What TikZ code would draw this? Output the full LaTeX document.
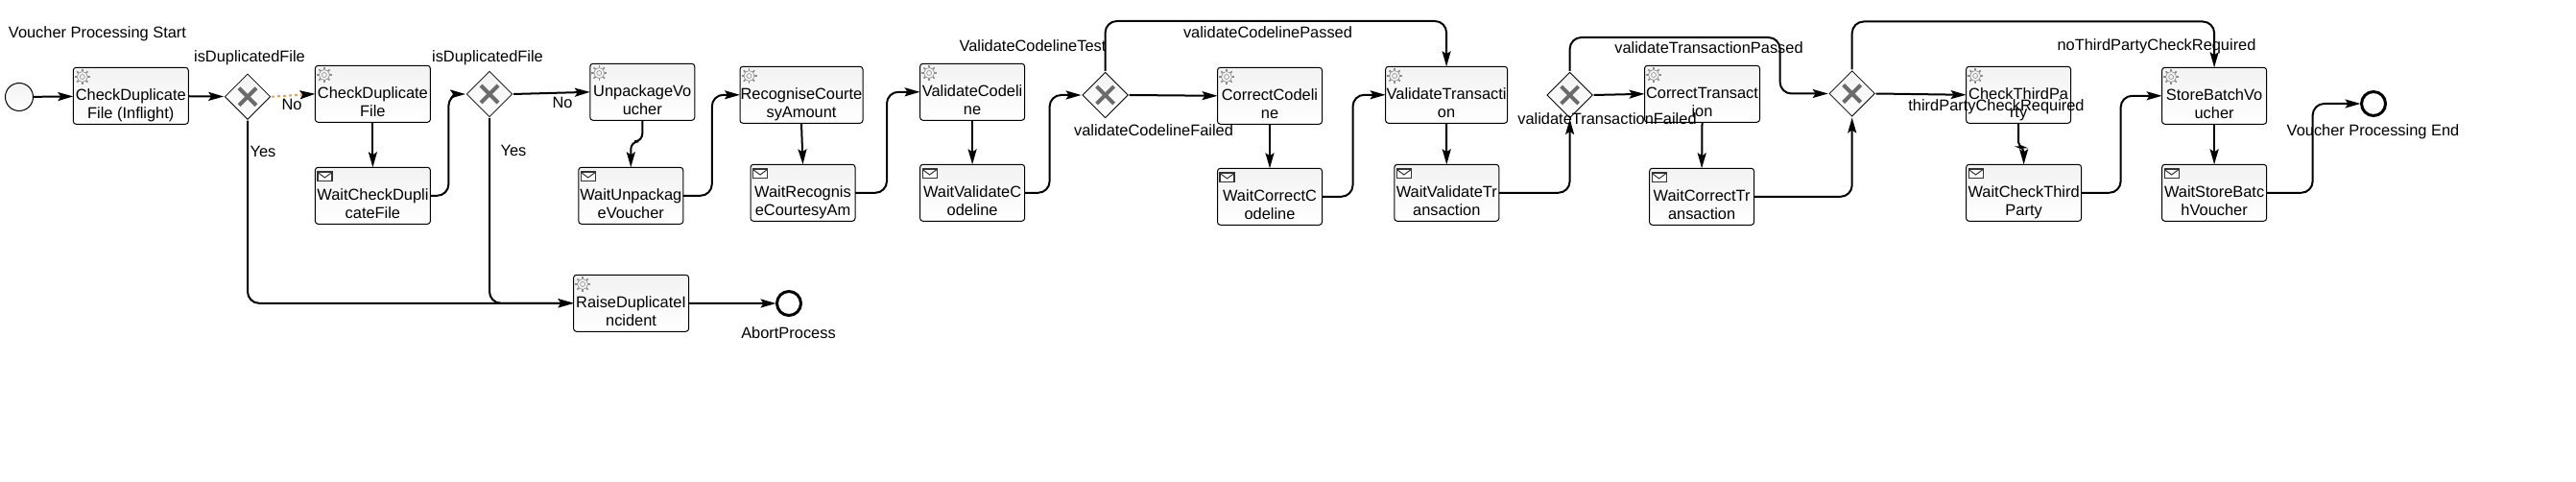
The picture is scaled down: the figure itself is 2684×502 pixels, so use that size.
\documentclass[tikz,border=0pt]{standalone}
\usepackage{fontspec}
\setmainfont{Liberation Sans}
\usetikzlibrary{shapes.geometric,arrows.meta}
\definecolor{flowdash}{HTML}{F5A033}
\newcommand{\tasklines}[2]{\rule{0pt}{33pt}#1\\#2\rule[-5pt]{0pt}{5pt}}
\tikzset{
tasklabel/.style={font=\fontsize{16.4}{19}\selectfont},
task/.style={
	draw, rounded corners=3, line width=1, top color=black!5, bottom color=white,
	anchor=north west, inner sep=0, outer sep=0, minimum width=#1, minimum height=59,
	align=center, font=\fontsize{16.4}{19}\selectfont},
task/.default=109,
gateway/.style={
	draw, diamond, aspect=1, line width=0.8, top color=black!5, bottom color=white,
	inner sep=0, outer sep=1, minimum size=48,
	path picture={
		\draw[black!58, line width=4] ([shift={(-9,-9)}]path picture bounding box.center) -- ++(18,18);
		\draw[black!58, line width=4] ([shift={(9,-9)}]path picture bounding box.center) -- ++(-18,18);
	}},
startevent/.style={draw, circle, line width=1, top color=black!5, bottom color=white, inner sep=0, outer sep=0, minimum size=29},
endevent/.style={draw, circle, line width=3, fill=white, inner sep=0, outer sep=1, minimum size=25},
flow/.style={line width=2, -{Stealth[length=16pt,width=9pt,inset=3pt]}},
gearicon/.pic={
	\draw[black!45, line width=0.6] (0,0) circle (2.5);
	\draw[black!45, line width=0.6] (0,0) circle (5.5);
	\foreach \a in {0,45,...,315} \draw[black!45, line width=1.6] (\a:5.5) -- (\a:8);
},
mailicon/.pic={
	\draw[black!80, line width=1.2, fill=white] (0,0) rectangle (15,9.5);
	\draw[black!80, line width=1] (0,0.5) -- (7.5,6) -- (15,0.5);
}
}

\begin{document}
\begin{tikzpicture}[x=1pt, y=-1pt]
	\useasboundingbox (0,0) rectangle (2684,502);

	\node[startevent] (start) at (20,101) {};
	\node[task=120] (checkinflight) at (76.3,70.3) {\tasklines{CheckDuplicate}{File (Inflight)}};
	\node[gateway] (gwfirst) at (258,100.7) {};
	\node[task=120] (checkfile) at (328.4,68.3) {\tasklines{CheckDuplicate}{File}};
	\node[task=120] (waitcheckfile) at (328.4,174.3) {\tasklines{WaitCheckDupli}{cateFile}};
	\node[gateway] (gwsecond) at (510,98) {};
	\node[task] (unpack) at (614.8,66.3) {\tasklines{UnpackageVo}{ucher}};
	\node[task] (waitunpack) at (602.8,174.3) {\tasklines{WaitUnpackag}{eVoucher}};
	\node[task=128] (recognise) at (771,69.3) {\tasklines{RecogniseCourte}{syAmount}};
	\node[task] (waitrecognise) at (782,171.3) {\tasklines{WaitRecognis}{eCourtesyAm}};
	\node[task] (validate) at (958.6,66.3) {\tasklines{ValidateCodeli}{ne}};
	\node[task] (waitvalidate) at (958.6,171.3) {\tasklines{WaitValidateC}{odeline}};
	\node[gateway] (gwcodeline) at (1151.6,99) {};
	\node[task] (correct) at (1268.5,70.3) {\tasklines{CorrectCodeli}{ne}};
	\node[task] (waitcorrect) at (1268.5,175.3) {\tasklines{WaitCorrectC}{odeline}};
	\node[task=127] (validatetr) at (1443.6,69.3) {\tasklines{ValidateTransacti}{on}};
	\node[task] (waitvalidatetr) at (1452.8,171.3) {\tasklines{WaitValidateTr}{ansaction}};
	\node[gateway] (gwtrans) at (1635.6,99) {};
	\node[task=120] (correcttr) at (1713.5,68.3) {\tasklines{CorrectTransact}{ion}};
	\node[task] (waitcorrecttr) at (1718.6,175.3) {\tasklines{WaitCorrectTr}{ansaction}};
	\node[gateway] (gwthird) at (1929.7,97.5) {};
	\node[task] (checkthird) at (2048.6,69.3) {\tasklines{CheckThirdPa}{rty}};
	\node[task=120] (waitcheckthird) at (2048.6,171.3) {\tasklines{WaitCheckThird}{Party}};
	\node[task] (store) at (2252.6,70.3) {\tasklines{StoreBatchVo}{ucher}};
	\node[task] (waitstore) at (2252.6,171.3) {\tasklines{WaitStoreBatc}{hVoucher}};
	\node[endevent] (finish) at (2473,108) {};
	\node[task=120] (raise) at (597.6,286.3) {\tasklines{RaiseDuplicateI}{ncident}};
	\node[endevent] (abort) at (822,316) {};

	\foreach \n in {checkinflight,checkfile,unpack,recognise,validate,correct,validatetr,correcttr,checkthird,store,raise}
		\pic at ([shift={(9.5,9.7)}]\n.north west) {gearicon};
	\foreach \n in {waitcheckfile,waitunpack,waitrecognise,waitvalidate,waitcorrect,waitvalidatetr,waitcorrecttr,waitcheckthird,waitstore}
		\pic at ([shift={(2.5,4.7)}]\n.north west) {mailicon};

	\draw[flow] (start) -- (checkinflight);
	\draw[flow] (checkinflight) -- (gwfirst);
	\draw[flow, flowdash, dashed, -{Stealth[black,length=16pt,width=9pt,inset=3pt]}] (gwfirst.east) -- (checkfile.west);
	\draw[flow, rounded corners=12] (gwfirst.south) |- (raise.west);
	\draw[flow] (checkfile) -- (waitcheckfile);
	\draw[flow, rounded corners=12] (waitcheckfile.east) -- ++(19,0) |- (gwsecond.west);
	\draw[flow] (gwsecond.east) -- (unpack.west);
	\draw[flow, rounded corners=12] (gwsecond.south) |- (raise.west);
	\draw[flow, rounded corners=8] (unpack.south) -- ++(0,22) -| (waitunpack.north);
	\draw[flow, rounded corners=12] (waitunpack.east) -- ++(30,0) |- (recognise.west);
	\draw[flow] (recognise.south) -- (waitrecognise.north);
	\draw[flow, rounded corners=12] (waitrecognise.east) -- ++(33,0) |- (validate.west);
	\draw[flow] (validate) -- (waitvalidate);
	\draw[flow, rounded corners=12] (waitvalidate.east) -- ++(26,0) |- (gwcodeline.west);
	\draw[flow, rounded corners=12] (gwcodeline.north) -- ++(0,-52) -| (validatetr.north);
	\draw[flow] (gwcodeline.east) -- (correct.west);
	\draw[flow] (correct) -- (waitcorrect);
	\draw[flow, rounded corners=12] (waitcorrect.east) -- ++(32,0) |- (validatetr.west);
	\draw[flow] (validatetr) -- (waitvalidatetr);
	\draw[flow, rounded corners=12] (waitvalidatetr.east) -| (gwtrans.south);
	\draw[flow, rounded corners=12] (gwtrans.north) -- ++(0,-35) -- ++(219,0) |- (gwthird.west);
	\draw[flow] (gwtrans.east) -- (correcttr.west);
	\draw[flow] (correcttr.south) -- (waitcorrecttr.north);
	\draw[flow, rounded corners=12] (waitcorrecttr.east) -| (gwthird.south);
	\draw[flow, rounded corners=12] (gwthird.north) -- ++(0,-50) -| (store.north);
	\draw[flow] (gwthird.east) -- (checkthird.west);
	\draw[flow, rounded corners=5] (checkthird.south) -- ++(0,25) -| (waitcheckthird.north);
	\draw[flow, rounded corners=12] (waitcheckthird.east) -- ++(41,0) |- (store.west);
	\draw[flow] (store) -- (waitstore);
	\draw[flow, rounded corners=12] (waitstore.east) -- ++(48,0) |- (finish.west);
	\draw[flow] (raise) -- (abort);

	\node[tasklabel] (lblstart) at (101.5,35) {Voucher Processing Start};
	\node[tasklabel] (lblfirst) at (260,60) {isDuplicatedFile};
	\node[tasklabel] (lblsecond) at (508,60) {isDuplicatedFile};
	\node[tasklabel] (lblnofirst) at (304,109) {No};
	\node[tasklabel] (lblyesfirst) at (274,158) {Yes};
	\node[tasklabel] (lblnosecond) at (586,107) {No};
	\node[tasklabel] (lblyessecond) at (535,157) {Yes};
	\node[tasklabel] (lblabort) at (821.5,347) {AbortProcess};
	\node[tasklabel] (lbltest) at (1076,48) {ValidateCodelineTest};
	\node[tasklabel] (lblpassed) at (1321,33.7) {validateCodelinePassed};
	\node[tasklabel] (lblfailed) at (1202,135.7) {validateCodelineFailed};
	\node[tasklabel] (lbltrfailed) at (1674.5,123.7) {validateTransactionFailed};
	\node[tasklabel] (lbltrpassed) at (1780.5,50) {validateTransactionPassed};
	\node[tasklabel] (lblnothird) at (2247,48.7) {noThirdPartyCheckRequired};
	\node[tasklabel] (lblthird) at (2080,111) {thirdPartyCheckRequired};
	\node[tasklabel] (lblend) at (2472.5,137.7) {Voucher Processing End};
\end{tikzpicture}
\end{document}
